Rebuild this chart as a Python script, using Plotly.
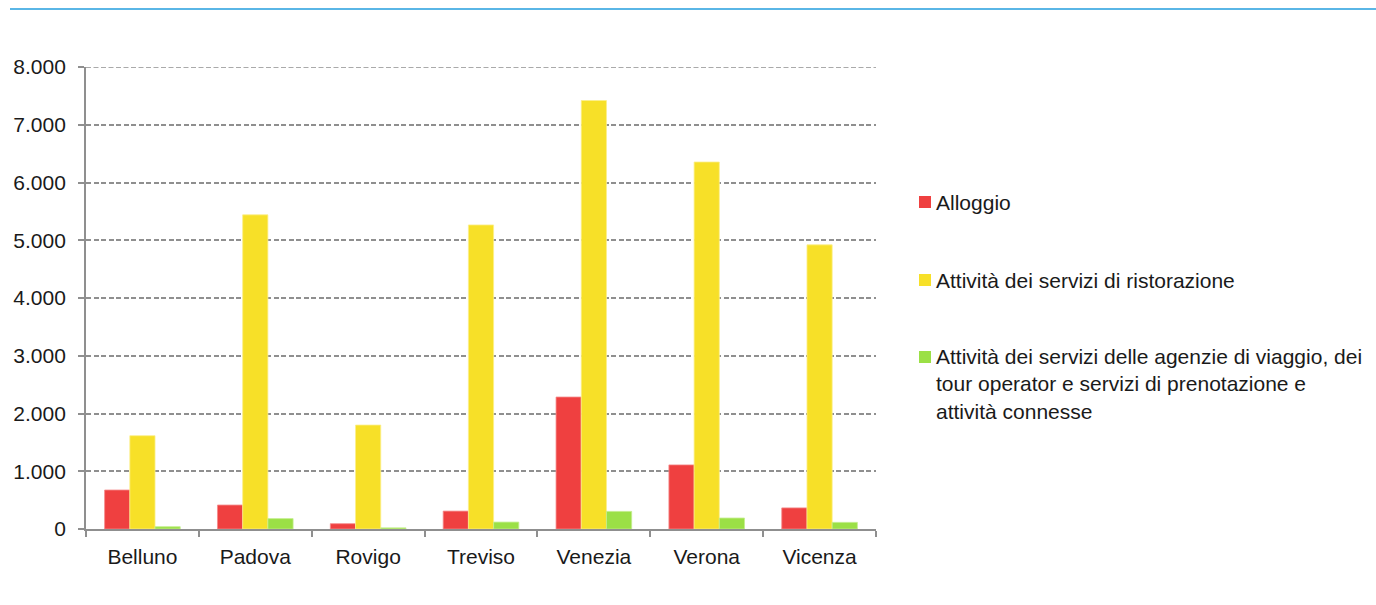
import plotly.graph_objects as go

# Imprese per provincia e settore
provinces = ["Belluno", "Padova", "Rovigo", "Treviso", "Venezia", "Verona", "Vicenza"]
alloggio = [675, 415, 92, 310, 2285, 1110, 365]
ristorazione = [1615, 5440, 1800, 5265, 7420, 6355, 4920]
agenzie = [40, 180, 20, 120, 305, 190, 115]

series_names = [
    "Alloggio",
    "Attività dei servizi di ristorazione",
    "Attività dei servizi delle agenzie di viaggio, dei<br>tour operator e servizi di prenotazione e<br>attività connesse",
]
series_values = [alloggio, ristorazione, agenzie]
series_colors = ["#EF4040", "#F7E028", "#9BE046"]
edge_colors = ["#F58A8A", "#FBEF8A", "#C4EE8E"]

Y_MAX = 8000

W, H = 1376, 605
FONT = "Liberation Sans, Arial, Helvetica, sans-serif"
FS = 21
TEXT = "#1a1a1a"
GRID = "#8f8f8f"


def px(x):
    return x / W


def py(y):
    return 1 - y / H


fig = go.Figure()
for name, vals, col, edge in zip(series_names, series_values, series_colors, edge_colors):
    fig.add_trace(go.Bar(
        x=provinces, y=vals, name=name,
        marker=dict(color=col, line=dict(color=edge, width=0.8)),
        showlegend=False,
    ))

# plot area
X0, X1 = 86, 876
Y0, Y1 = 67, 529

fig.update_layout(
    width=W, height=H,
    margin=dict(l=0, r=0, t=0, b=0),
    paper_bgcolor="white", plot_bgcolor="white",
    barmode="group", bargap=0.33, bargroupgap=0,
    separators=",.",
    font=dict(family=FONT, size=FS, color=TEXT),
    xaxis=dict(
        domain=[px(X0), px(X1)],
        showline=True, linecolor=GRID, linewidth=1.8,
        ticks="outside", tickson="boundaries", ticklen=6, tickwidth=1.6, tickcolor=GRID,
        showgrid=False, automargin=False, ticklabelstandoff=8,
        tickfont=dict(size=FS, color=TEXT),
    ),
    yaxis=dict(
        domain=[py(Y1), py(Y0)],
        range=[0, Y_MAX], dtick=1000, tickformat=",d",
        showline=True, linecolor=GRID, linewidth=1.8,
        ticks="outside", ticklen=6, tickwidth=1.6, tickcolor=GRID,
        showgrid=True, gridcolor=GRID, gridwidth=1.6, griddash="5px,2.5px",
        zeroline=False, automargin=False, ticklabelstandoff=8,
        tickfont=dict(size=FS, color=TEXT),
    ),
)

shapes = [
    # header rule
    dict(type="line", xref="paper", yref="paper",
         x0=px(10), x1=1, y0=py(9), y1=py(9),
         line=dict(color="#5AB6E6", width=2)),
    # gridline at the top of the value range
    dict(type="line", xref="x domain", yref="y",
         x0=0, x1=1, y0=Y_MAX, y1=Y_MAX,
         line=dict(color=GRID, width=1.6, dash="5px,2.5px")),
]
annotations = []

# legend built from the series
legend_rows = [202, 280, 357]
SQ = 12
for name, col, yc in zip(series_names, series_colors, legend_rows):
    shapes.append(dict(type="rect", xref="paper", yref="paper",
                       x0=px(919), x1=px(919 + SQ), y0=py(yc + SQ / 2), y1=py(yc - SQ / 2),
                       fillcolor=col, line=dict(width=0)))
    multi = "<br>" in name
    annotations.append(dict(xref="paper", yref="paper", x=px(934),
                            y=py(yc - 14) if multi else py(yc),
                            xanchor="left", yanchor="top" if multi else "middle",
                            align="left", text=name, showarrow=False,
                            font=dict(size=FS, color=TEXT, family=FONT)))

fig.update_layout(shapes=shapes, annotations=annotations)
fig.write_html("out.html")
